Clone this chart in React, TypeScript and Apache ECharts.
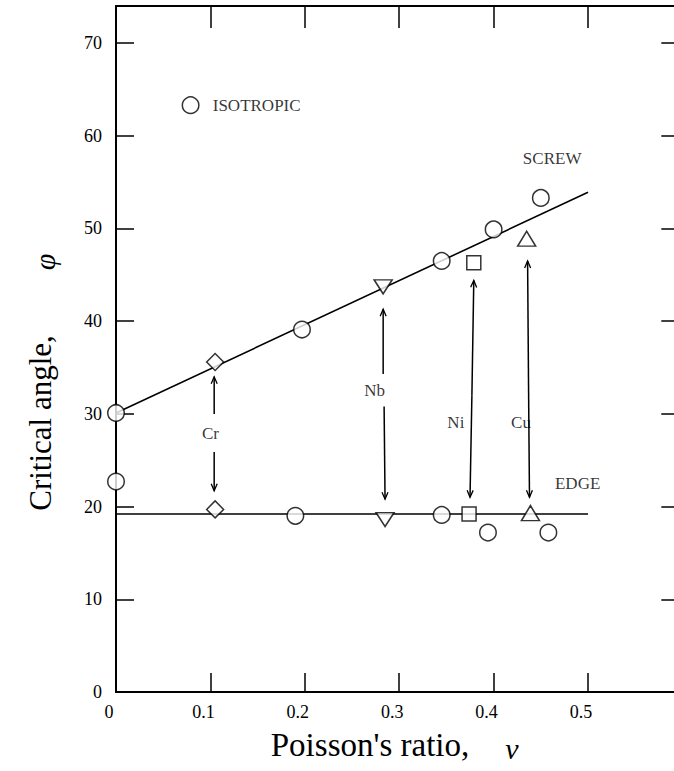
import React, { useEffect, useRef } from "react";
import * as echarts from "echarts";

const xTickValues = [0, 0.1, 0.2, 0.3, 0.4, 0.5];
const yTickValues = [0, 10, 20, 30, 40, 50, 60, 70];

const screwLine = [[0, 30.1], [0.5, 53.9]];
const edgeLine = [[0, 19.2], [0.5, 19.2]];

const circlePoints = [
  [0, 30.1], [0.197, 39.1], [0.345, 46.5], [0.4, 49.9], [0.45, 53.3],
  [0, 22.7], [0.19, 19.0], [0.345, 19.1], [0.394, 17.2], [0.458, 17.2],
  [0.079, 63.3],
];
const crPoints = [[0.105, 35.6], [0.105, 19.7]];
const nbPoints = [[0.283, 43.7], [0.285, 18.6]];
const niPoints = [[0.379, 46.3], [0.374, 19.2]];
const cuPoints = [[0.435, 48.9], [0.439, 19.3]];

// arrows: [xFrom, yFrom, xTo, yTo], head at "to"
const arrowSegments = [
  [0.104, 30.0, 0.104, 34.0],
  [0.104, 25.9, 0.104, 21.7],
  [0.283, 34.3, 0.283, 41.3],
  [0.284, 30.8, 0.285, 20.8],
  [0.377, 32.0, 0.379, 44.4],
  [0.377, 32.0, 0.375, 21.0],
  [0.437, 33.0, 0.436, 46.5],
  [0.437, 33.0, 0.438, 21.0],
];

const labelTexts = ["ISOTROPIC", "SCREW", "EDGE", "Cr", "Nb", "Ni", "Cu"];
const labelX = [0.149, 0.462, 0.489, 0.1, 0.274, 0.36, 0.429];
const labelY = [63.3, 57.6, 22.5, 27.9, 32.5, 29.1, 29.1];

const SERIF = "'Liberation Serif', 'DejaVu Serif', serif";

export default function App() {
  const ref = useRef<HTMLDivElement>(null);
  useEffect(() => {
    if (!ref.current) return;
    const chart = echarts.init(ref.current, undefined, { renderer: "svg" });
    const markerStyle = { color: "#fff", borderColor: "#000", borderWidth: 1.5 };
    const fmtX = (v: number) => {
      const r = Math.round(v * 10) / 10;
      if (!xTickValues.some((t) => Math.abs(t - r) < 1e-6)) return "";
      return r === 0 ? "0" : r.toFixed(1);
    };
    const axisLine = { show: true, onZero: false, lineStyle: { color: "#000", width: 2 } };
    const option: any = {
      animation: false,
      backgroundColor: "#fff",
      grid: { left: 116, top: 6, width: 585.3, height: 686, outerBoundsMode: "none", containLabel: false },
      xAxis: [
        {
          type: "value", min: 0, max: 0.62, interval: 0.1, position: "bottom",
          axisLine,
          axisTick: { show: true, inside: true, length: 19, lineStyle: { color: "#000", width: 1.5 } },
          splitLine: { show: false },
          axisLabel: {
            color: "#000", fontFamily: SERIF, fontSize: 18, margin: 11,
            padding: [0, 14, 0, 0], formatter: fmtX,
          },
        },
        {
          type: "value", min: 0, max: 0.62, interval: 0.1, position: "top",
          axisLine,
          axisTick: { show: true, inside: true, length: 22, lineStyle: { color: "#000", width: 1.5 } },
          splitLine: { show: false },
          axisLabel: { show: false },
        },
      ],
      yAxis: [
        {
          type: "value", min: 0, max: 74, interval: 10, position: "left",
          axisLine,
          axisTick: { show: true, inside: true, length: 18, lineStyle: { color: "#000", width: 1.5 } },
          splitLine: { show: false },
          axisLabel: {
            color: "#000", fontFamily: SERIF, fontSize: 18, margin: 14,
            padding: [0, 0, 12, 0],
            formatter: (v: number) => (yTickValues.includes(v) ? String(v) : ""),
          },
        },
        {
          type: "value", min: 0, max: 74, interval: 10, position: "right",
          axisLine,
          axisTick: { show: true, inside: true, length: 40, lineStyle: { color: "#000", width: 1.5 } },
          splitLine: { show: false },
          axisLabel: { show: false },
        },
      ],
      graphic: [
        {
          type: "text", x: 40, y: 423, rotation: Math.PI / 2,
          style: {
            text: "Critical angle,", fill: "#000", font: `31px ${SERIF}`,
            align: "center", verticalAlign: "middle",
          },
        },
        {
          type: "text", x: 44, y: 262, rotation: Math.PI / 2,
          style: {
            text: "φ", fill: "#000", font: `italic 30px ${SERIF}`,
            align: "center", verticalAlign: "middle",
          },
        },
        {
          type: "text", x: 370, y: 745,
          style: {
            text: "Poisson's ratio,", fill: "#000", font: `33px ${SERIF}`,
            align: "center", verticalAlign: "middle",
          },
        },
        {
          type: "text", x: 512, y: 748,
          style: {
            text: "ν", fill: "#000", font: `italic 30px ${SERIF}`,
            align: "center", verticalAlign: "middle",
          },
        },
      ],
      series: [
        {
          type: "line", data: screwLine, symbol: "none", z: 2,
          lineStyle: { color: "#000", width: 1.6 },
        },
        {
          type: "line", data: edgeLine, symbol: "none", z: 2,
          lineStyle: { color: "#000", width: 1.6 },
        },
        {
          type: "custom", z: 2,
          data: arrowSegments,
          renderItem: (params: any, api: any) => {
            const p0 = api.coord([api.value(0), api.value(1)]);
            const p1 = api.coord([api.value(2), api.value(3)]);
            const dx = p0[0] - p1[0];
            const dy = p0[1] - p1[1];
            const len = Math.sqrt(dx * dx + dy * dy) || 1;
            const ux = dx / len, uy = dy / len;
            const px = -uy, py = ux;
            const hl = 7, hw = 3;
            return {
              type: "group",
              children: [
                {
                  type: "line",
                  shape: { x1: p0[0], y1: p0[1], x2: p1[0], y2: p1[1] },
                  style: { stroke: "#000", lineWidth: 1.5 },
                },
                {
                  type: "polyline",
                  shape: {
                    points: [
                      [p1[0] + ux * hl + px * hw, p1[1] + uy * hl + py * hw],
                      [p1[0], p1[1]],
                      [p1[0] + ux * hl - px * hw, p1[1] + uy * hl - py * hw],
                    ],
                  },
                  style: { stroke: "#000", lineWidth: 1.3, fill: null },
                },
              ],
            };
          },
        },
        {
          type: "scatter", data: circlePoints, symbol: "circle", symbolSize: 16.5, z: 5,
          itemStyle: markerStyle,
        },
        {
          type: "scatter", data: crPoints, symbol: "rect", symbolSize: 12, symbolRotate: 45, z: 5,
          itemStyle: markerStyle,
        },
        {
          type: "scatter", data: nbPoints, symbol: "triangle", symbolSize: [18, 14], symbolRotate: 180, z: 5,
          itemStyle: markerStyle,
        },
        {
          type: "scatter", data: niPoints, symbol: "rect", symbolSize: 14, z: 5,
          itemStyle: markerStyle,
        },
        {
          type: "scatter", data: cuPoints, symbol: "triangle", symbolSize: [18, 15], z: 5,
          itemStyle: markerStyle,
        },
        {
          type: "scatter", z: 6, symbolSize: 1,
          itemStyle: { color: "rgba(0,0,0,0)" },
          data: labelTexts.map((t, i) => ({ value: [labelX[i], labelY[i]], name: t })),
          label: {
            show: true, position: "inside", formatter: (p: any) => p.name,
            color: "#000", fontFamily: SERIF, fontSize: 17,
          },
        },
      ],
    };
    chart.setOption(option);
    return () => chart.dispose();
  }, []);
  return (
    <div
      style={{
        position: "fixed", left: 0, top: 0, width: 674, height: 771,
        overflow: "hidden", background: "#fff",
      }}
    >
      <div ref={ref} style={{ width: 720, height: 771 }} />
    </div>
  );
}
